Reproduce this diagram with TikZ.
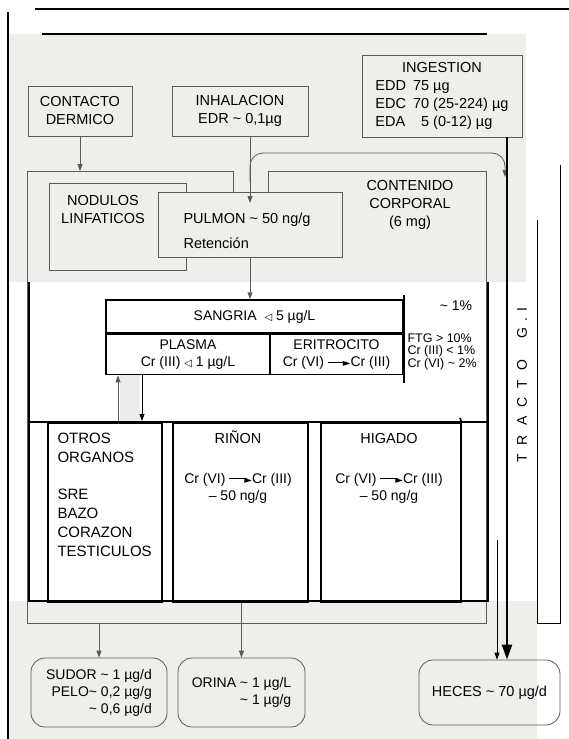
\documentclass[tikz,border=0pt]{standalone}
\usepackage{fontspec}
\setmainfont{Liberation Sans}
\newfontfamily\symfont{DejaVu Sans}
\usetikzlibrary{arrows.meta}
\definecolor{scanbg}{RGB}{238,238,235}
\definecolor{scanline}{RGB}{90,90,90}
\newcommand{\aprox}{\textasciitilde}
\newcommand{\triang}{{\symfont\fontsize{10}{10}\selectfont ◁}}
\newcommand{\flecha}{\rule[3.9pt]{18pt}{0.9pt}\kern-3pt{\symfont\fontsize{10}{10}\selectfont ►}}

\begin{document}
\begin{tikzpicture}[x=1pt, y=-1pt,
    txt/.style={font=\fontsize{14.5}{18}\selectfont},
    mid/.style={font=\fontsize{14}{17}\selectfont},
    small/.style={font=\fontsize{12.5}{11.5}\selectfont},
    scanbox/.style={draw=scanline, line width=0.8pt, inner sep=0pt, align=center},
    inkbox/.style={draw, line width=1.5pt, inner sep=0pt, align=center},
    salida/.style={scanbox, rounded corners=14pt},
    arr/.style={-{Triangle[length=7pt,width=5pt]}, draw=scanline, line width=0.8pt},
    ink/.style={line width=1.6pt},
    gi/.style={-{Triangle[length=15pt,width=10pt]}, line width=2.4pt}]

  % page of the scan
  \useasboundingbox (0,0) rectangle (569,739);
  \fill[scanbg] (9,34) rectangle (526,282);
  \fill[scanbg] (9,601) rectangle (537,739);
  \draw[line width=2pt] (35,9) -- (569,9);
  \draw[ink] (42,34) -- (487,34);
  \draw[ink] (8,12) -- (8,739);

  % intake
  \node[scanbox, txt, minimum width=104pt, minimum height=50pt] (contacto) at (80,111) {CONTACTO\\DERMICO};
  \node[scanbox, txt, minimum width=136pt, minimum height=50pt] (inhal) at (240,111) {INHALACION\\EDR \aprox{} 0,1µg};
  \node[scanbox, txt, minimum width=160pt, minimum height=82pt] (ingest) at (442,96)
    {\begin{tabular}{@{}l@{\hskip 7pt}l@{}}
       \multicolumn{2}{c}{INGESTION}\\
       EDD & 75 µg\\
       EDC & 70 (25-224) µg\\
       EDA & \ \ 5 (0-12) µg
     \end{tabular}};

  % body content
  \coordinate (cuerpoNW) at (27,171);
  \coordinate (cuerpoSW) at (27,623);
  \draw[scanline, line width=0.8pt] (233,192) -- (233,171) -- (cuerpoNW) -- (cuerpoSW)
    -- (486,623) -- (486,171) -- (268,171) -- (268,192);
  \node[scanbox, minimum width=137pt, minimum height=87pt] (nodulos) at (117.5,226.5) {};
  \node[txt, align=center, anchor=base] (nodtxt) at (103,223) {NODULOS\\LINFATICOS};
  \node[scanbox, fill=scanbg, minimum width=184pt, minimum height=65pt] (pulmon) at (250,224.5) {};
  \node[txt, align=left, anchor=base west] (pultxt) at (180,248) {PULMON \aprox{} 50 ng/g\\[7pt]Retención};
  \node[txt, align=center, anchor=base] (contenido) at (410,226) {CONTENIDO\\CORPORAL\\(6 mg)};
  \coordinate (inhalout) at (250,136);
  \coordinate (pulmonin) at (250,203);
  \coordinate (tractoin) at (505,177);

  \draw[arr] (contacto) -- (contacto |- cuerpoNW);
  \draw[arr] (inhalout) -- (pulmonin);
  \draw[arr, rounded corners=13pt] (250,182) |- (505,153) -- (tractoin);

  % blood
  \node[inkbox, mid, minimum width=297pt, minimum height=33pt] (sangria) at (254.5,316.5) {SANGRIA \ \triang\ 5 µg/L};
  \node[inkbox, mid, minimum width=164pt, minimum height=40pt, anchor=north west] (plasma) at (sangria.south west) {PLASMA\\Cr (III) \triang\ 1 µg/L};
  \node[inkbox, mid, minimum width=133pt, minimum height=40pt, anchor=north east] (eritro) at (sangria.south east) {ERITROCITO\\Cr (VI) \flecha Cr (III)};
  \draw[ink] ([yshift=4pt]sangria.north east) -- ([yshift=-8pt]eritro.south east);
  \draw[arr] (pulmon) -- (pulmon |- sangria.north);
  \node[mid, anchor=base] (uno) at (456,310) {\aprox{} 1\%};
  \node[small, align=left, anchor=base west] (notas) at (404,367) {FTG > 10\%\\Cr (III) < 1\%\\Cr (VI) \aprox{} 2\%};

  % organs
  \draw[ink] (29,282) -- (29,601) -- (488,601) -- (488,282);
  \draw[ink] (29,422) -- (488,422);
  \node[inkbox, minimum width=114pt, minimum height=179pt, anchor=north west] (otros) at (47,422) {};
  \node[inkbox, minimum width=135pt, minimum height=179pt, anchor=north west] (rinon) at (172,422) {};
  \node[inkbox, minimum width=140pt, minimum height=179pt, anchor=north west] (higado) at (320,422) {};
  \draw[ink] (460,418) -- (higado.north east);
  \node[font=\fontsize{15}{19}\selectfont, align=left, anchor=base west] (otrostxt) at (54,556)
    {OTROS\\ORGANOS\\[18pt]SRE\\BAZO\\CORAZON\\TESTICULOS};
  \node[txt, anchor=base] (rinontxt) at (238,443) {RIÑON};
  \node[mid, align=center, anchor=base] (rinonval) at (238,500) {Cr (VI) \flecha Cr (III)\\– 50 ng/g};
  \node[txt, anchor=base] (higtxt) at (389,443) {HIGADO};
  \node[mid, align=center, anchor=base] (higval) at (389,500) {Cr (VI) \flecha Cr (III)\\– 50 ng/g};

  \fill[gray!15] (120,375) rectangle (140,421);
  \coordinate (sube) at (118,421);
  \coordinate (baja) at (142,421);
  \draw[arr] (sube) -- (sube |- plasma.south);
  \draw[arr, draw=black] (plasma.south -| baja) -- (baja);

  % GI tract
  \draw[line width=1pt] (537,220) -- (537,623) -- (560,623) -- (560,165);
  \node[mid, rotate=90] (tracto) at (522,385)
    {T\hskip9pt R\hskip9pt A\hskip9pt C\hskip9pt T\hskip9pt O\hskip22pt G\hskip6pt .\hskip6pt I};

  % excretion
  \node[salida, mid, minimum width=136pt, minimum height=69pt, align=right] (sudor) at (99,692.5)
    {SUDOR \aprox{} 1 µg/d\\PELO\aprox{} 0,2 µg/g\hspace{9pt}\\\aprox{} 0,6 µg/d};
  \node[salida, mid, minimum width=127pt, minimum height=69pt, align=right] (orina) at (241.5,692.5)
    {ORINA \aprox{} 1 µg/L\\\aprox{} 1 µg/g};
  \node[salida, txt, minimum width=141pt, minimum height=65pt] (heces) at (489.5,692.5) {HECES \aprox{} 70 µg/d};

  \draw[arr] (sudor.north |- cuerpoSW) -- (sudor.north);
  \draw[arr] (orina.north |- otros.south) -- (orina.north);
  \coordinate (gi) at (507,137);
  \coordinate (bilis) at (497,540);
  \draw[gi] (gi) -- (gi |- heces.north);
  \draw[arr, draw=black] (bilis) -- (bilis |- heces.north);
\end{tikzpicture}
\end{document}
